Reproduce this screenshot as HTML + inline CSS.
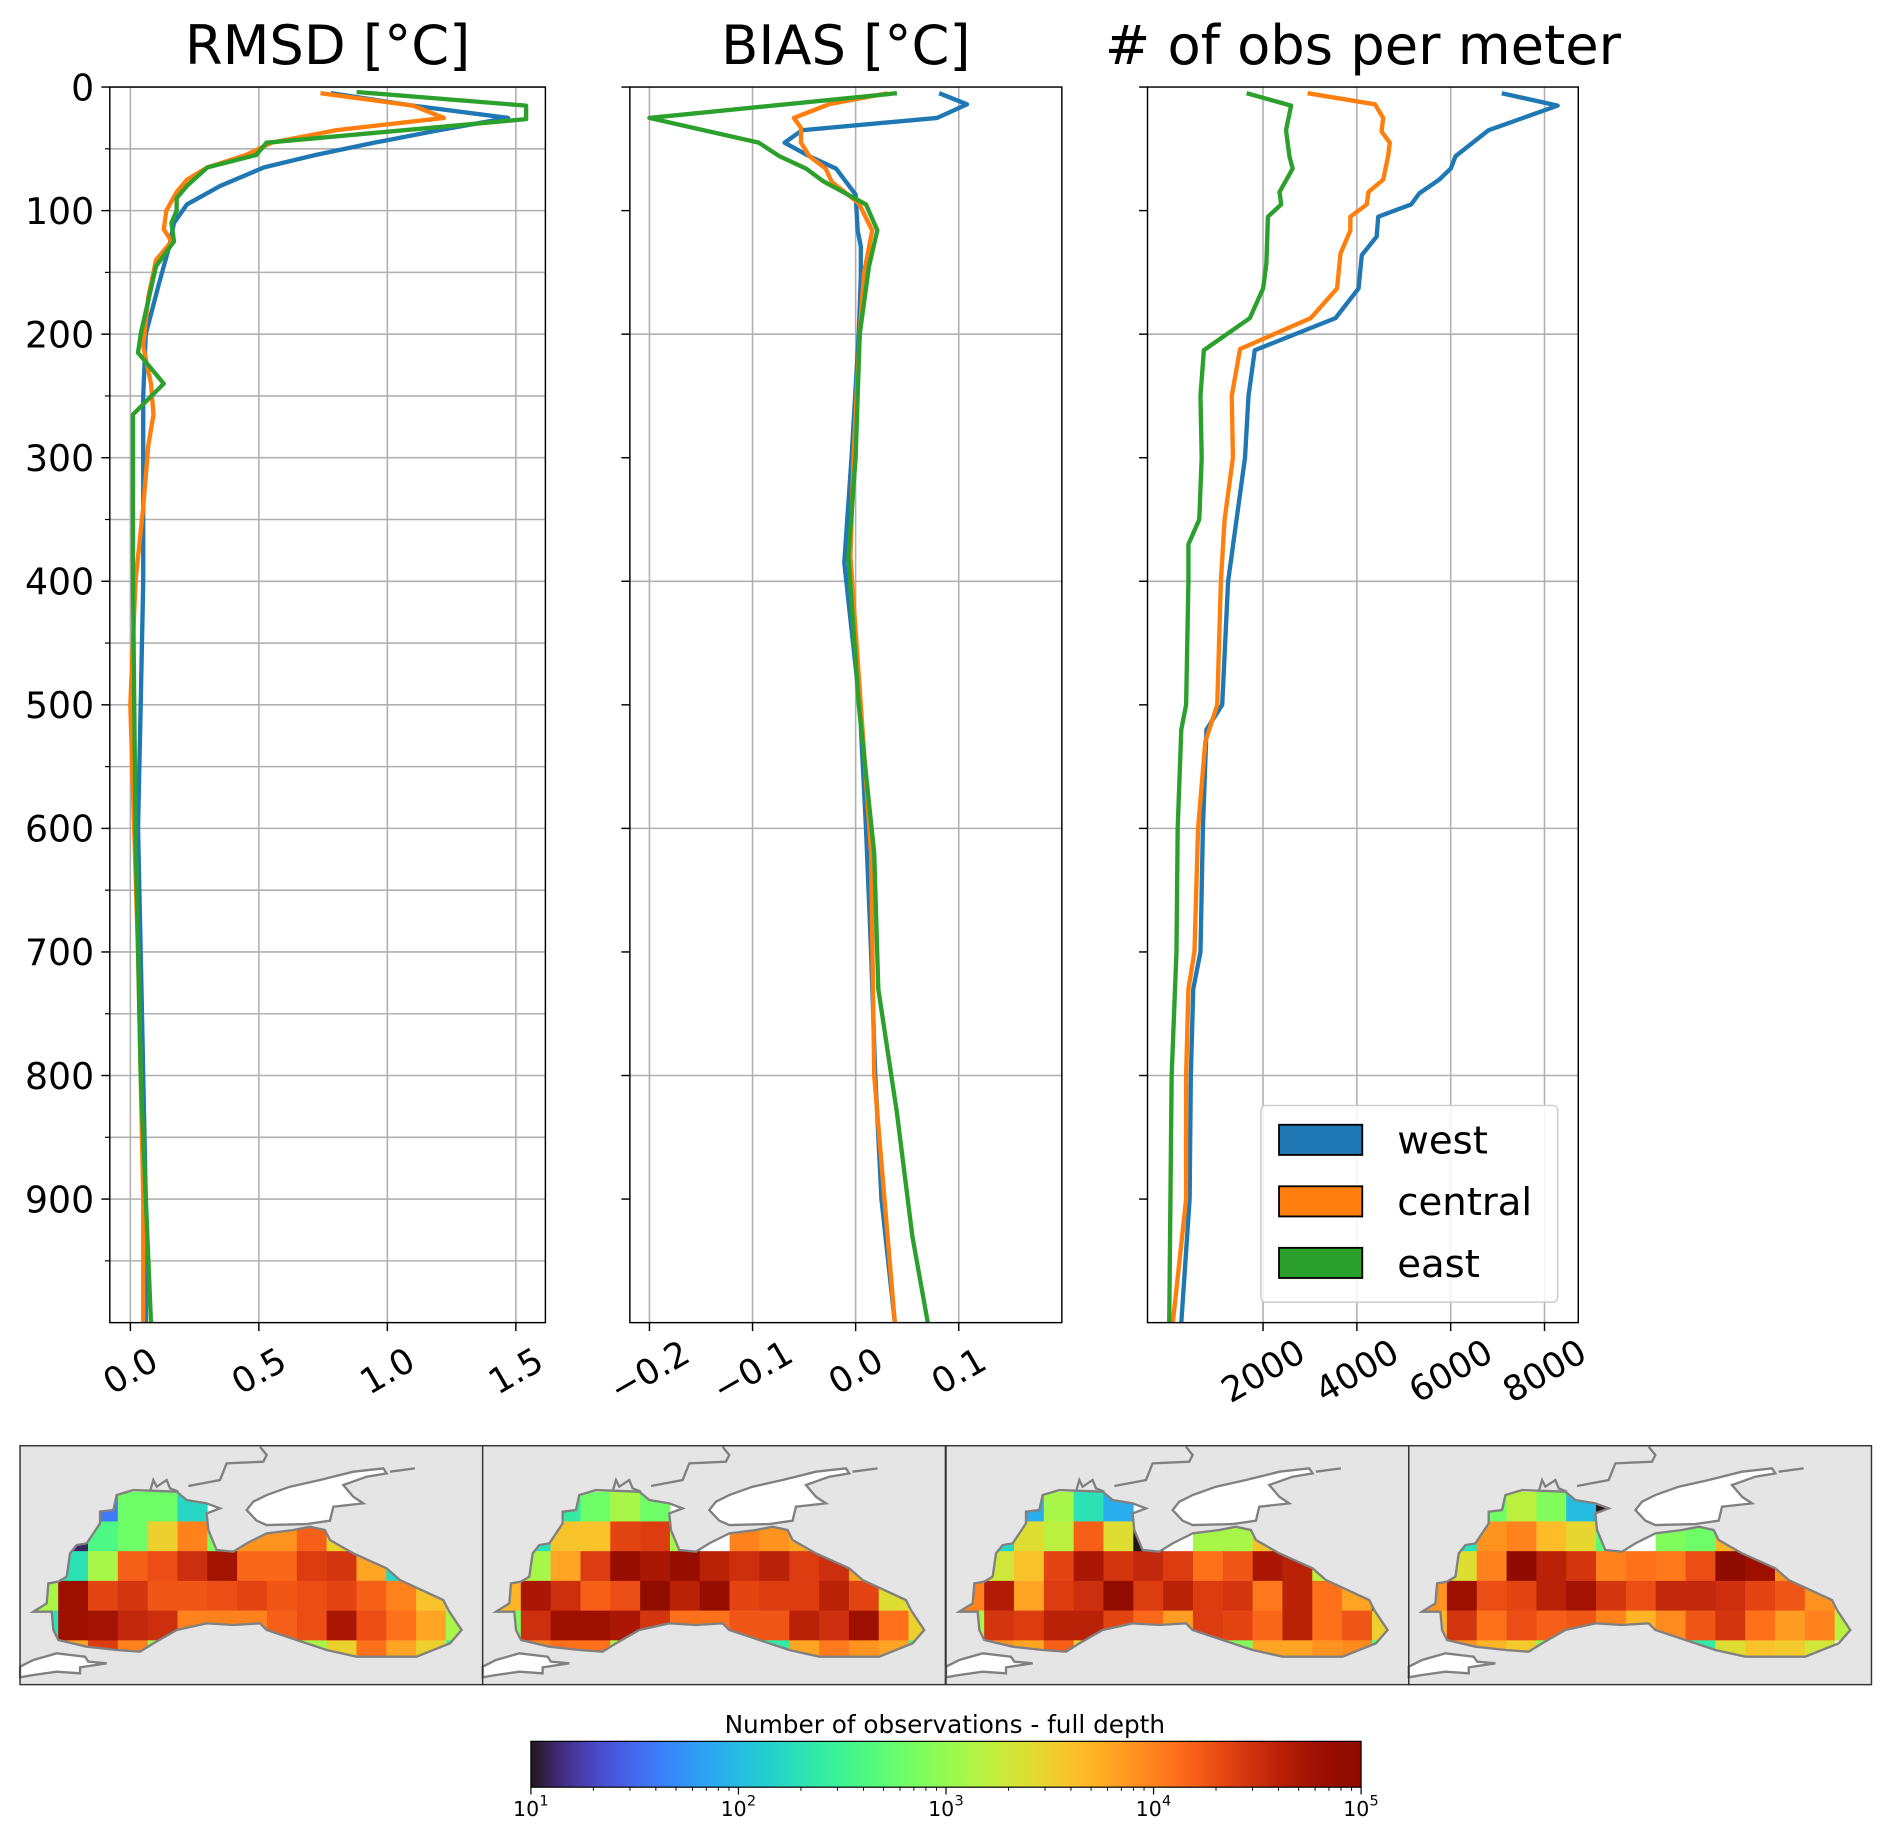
<!DOCTYPE html>
<html><head><meta charset="utf-8"><style>
html,body{margin:0;padding:0;background:#fff;}
svg{display:block;font-family:"DejaVu Sans","Liberation Sans",sans-serif;}
</style></head><body>
<svg id="fig" xmlns="http://www.w3.org/2000/svg" width="1892" height="1832" viewBox="0 0 1568 1518">
<rect width="1568" height="1518" fill="#fff"/>
<g id="plots"></g>
<g id="maps"></g>
<g id="cbar"></g>
</svg>
<script>
// ---------- profile data ----------
const rmsdWestDepth=[5,15,25,35,45,55,65,80,95,110,130,160,200,250,300,400,500,600,700,800,900,1000];
const rmsdWestVal=[0.78,1.1,1.47,1.2,0.95,0.72,0.52,0.35,0.22,0.17,0.15,0.11,0.06,0.05,0.05,0.05,0.04,0.03,0.04,0.05,0.06,0.06];
const rmsdCentralDepth=[5,15,25,35,45,55,65,75,85,100,115,125,140,170,210,240,265,290,340,400,500,570,700,800,900,1000];
const rmsdCentralVal=[0.74,1.1,1.22,0.8,0.55,0.45,0.3,0.22,0.18,0.14,0.13,0.16,0.1,0.07,0.05,0.08,0.09,0.07,0.05,0.02,0.0,0.01,0.03,0.04,0.05,0.05];
const rmsdEastDepth=[4,15,26,45,55,65,80,90,100,110,125,145,200,215,240,265,400,600,800,1000];
const rmsdEastVal=[0.88,1.54,1.54,0.53,0.49,0.3,0.22,0.18,0.18,0.16,0.17,0.1,0.04,0.03,0.13,0.01,0.01,0.02,0.04,0.08];

const biasWestDepth=[5,14,25,35,45,56,66,87,116,129,153,200,300,385,500,600,700,800,900,1000];
const biasWestVal=[0.081,0.108,0.079,-0.052,-0.069,-0.045,-0.019,0.0,0.002,0.005,0.005,0.003,-0.004,-0.011,0.004,0.01,0.015,0.019,0.025,0.038];
const biasCentralDepth=[5,14,25,33,45,56,66,77,94,116,151,200,300,380,500,620,800,900,1000];
const biasCentralVal=[0.031,-0.026,-0.06,-0.053,-0.053,-0.045,-0.029,-0.023,0.003,0.016,0.008,0.004,-0.002,-0.005,0.005,0.015,0.018,0.028,0.038];
const biasEastDepth=[5,25,45,56,66,76,95,116,145,200,300,380,500,620,730,830,930,1000];
const biasEastVal=[0.04,-0.2,-0.094,-0.074,-0.048,-0.032,0.01,0.021,0.013,0.004,0.0,-0.007,0.003,0.018,0.022,0.04,0.055,0.07];

const obsWestDepth=[5,15,35,56,66,75,86,95,105,121,136,163,187,213,250,300,400,500,520,600,700,730,800,900,1000];
const obsWestVal=[7088,8281,6807,6105,6000,5755,5333,5158,4456,4421,4105,4035,3544,1825,1690,1615,1256,1130,795,718,667,513,461,436,256];
const obsCentralDepth=[5,14,25,36,45,56,75,85,95,105,116,135,163,187,212,250,300,350,400,500,530,600,700,730,800,900,1000];
const obsCentralVal=[2947,4386,4561,4526,4702,4667,4561,4246,4211,3860,3860,3649,3579,3017,1509,1333,1359,1180,1100,1025,770,615,538,410,359,359,77];
const obsEastDepth=[5,15,35,56,66,85,95,105,143,163,187,213,250,300,350,370,400,500,520,600,700,800,900,1000];
const obsEastVal=[1649,2597,2491,2561,2632,2351,2386,2105,2070,2000,1719,737,667,692,641,410,410,359,256,180,154,51,26,0];

const yTicks=[0,100,200,300,400,500,600,700,800,900];
const rmsdTicks=[0,0.5,1.0,1.5], rmsdTickLabels=["0.0","0.5","1.0","1.5"];
const biasTicks=[-0.2,-0.1,0,0.1], biasTickLabels=["\u22120.2","\u22120.1","0.0","0.1"];
const obsTicks=[2000,4000,6000,8000], obsTickLabels=["2000","4000","6000","8000"];
const seriesNames=["west","central","east"];
const colors=["#1f77b4","#ff7f0e","#2ca02c"];

const NS="http://www.w3.org/2000/svg";
function mk(tag,attrs,parent){const e=document.createElementNS(NS,tag);for(const k in attrs)e.setAttribute(k,attrs[k]);if(parent)parent.appendChild(e);return e;}
const plots=document.getElementById('plots');
const TOP=72,BOT=1096;
const yS=d=>TOP+(d/1000)*(BOT-TOP);

function panel(name,L,R,xmin,xmax,ticks,tickLabels,title,minorGrid,yLabels,series){
  const g=mk('g',{},plots);
  
  
  const xS=v=>L+(v-xmin)/(xmax-xmin)*(R-L);
  ticks.forEach(t=>{const l=mk('line',{x1:xS(t),x2:xS(t),y1:TOP,y2:BOT,stroke:'#b0b0b0','stroke-width':1.3},g);
    });
  for(let d=0;d<1000;d+=50){
    const major=d%100===0;
    if(minorGrid || (d%200===0 && d>0)){
      const l=mk('line',{x1:L,x2:R,y1:yS(d),y2:yS(d),stroke:'#b0b0b0','stroke-width':1.3},g);
      
    }
    if(major) mk('line',{x1:L-7,x2:L,y1:yS(d),y2:yS(d),stroke:'#000','stroke-width':1.2},g);
    else if(minorGrid) mk('line',{x1:L-4,x2:L,y1:yS(d),y2:yS(d),stroke:'#000','stroke-width':1},g);
  }
  series.forEach((s,i)=>{
    const pts=s[0].map((d,j)=>xS(s[1][j]).toFixed(1)+','+yS(d).toFixed(1)).join(' ');
    const p=mk('polyline',{points:pts,fill:'none',stroke:colors[i],'stroke-width':3.6,'stroke-linejoin':'round'},g);
    
    
  });
  const f=mk('rect',{x:L,y:TOP,width:R-L,height:BOT-TOP,fill:'none',stroke:'#000','stroke-width':1.2},g);
  
  ticks.forEach((t,i)=>{
    mk('line',{x1:xS(t),x2:xS(t),y1:BOT,y2:BOT+7,stroke:'#000','stroke-width':1.2},g);
    const tx=mk('text',{x:xS(t),y:BOT+50,'font-size':29,'text-anchor':'middle',transform:`rotate(-30 ${xS(t)} ${BOT+40})`},g);
    tx.textContent=tickLabels[i];
    
  });
  if(yLabels){
    yTicks.forEach(t=>{const tx=mk('text',{x:L-13,y:yS(t)+11,'font-size':30,'text-anchor':'end'},g);
      tx.textContent=String(t);
      });
  }
  const tt=mk('text',{x:(L+R)/2,y:53,'font-size':45,'text-anchor':'middle'},g);
  tt.textContent=title;
  
  return g;
}
panel('rmsd',91,452,-0.08,1.615,rmsdTicks,rmsdTickLabels,'RMSD [°C]',true,true,
  [[rmsdWestDepth,rmsdWestVal],[rmsdCentralDepth,rmsdCentralVal],[rmsdEastDepth,rmsdEastVal]]);
panel('bias',522,880,-0.219,0.2,biasTicks,biasTickLabels,'BIAS [°C]',false,false,
  [[biasWestDepth,biasWestVal],[biasCentralDepth,biasCentralVal],[biasEastDepth,biasEastVal]]);
panel('obs',951,1308,-463,8720,obsTicks,obsTickLabels,'# of obs per meter',false,false,
  [[obsWestDepth,obsWestVal],[obsCentralDepth,obsCentralVal],[obsEastDepth,obsEastVal]]);
const lg=mk('g',{},plots);

mk('rect',{x:1045,y:916,width:246,height:163,rx:4,fill:'#fff','fill-opacity':0.85,stroke:'#ccc','stroke-width':1.2},lg);
seriesNames.forEach((n,i)=>{
  const y=932+i*51;
  const r=mk('rect',{x:1060,y:y,width:69,height:25,fill:colors[i],stroke:'#000','stroke-width':1.5},lg);
  
  const t=mk('text',{x:1158,y:y+24,'font-size':32},lg);t.textContent=n;
  
});

// ---------- maps: log10 counts per grid cell ----------
const N=null;
const mapWest=[
 [N,N,1.6,2.8,2.8,2.2,N,N,N,N,N,N,N,N,N],
 [N,1.1,2.6,2.8,3.5,4.0,2.9,3.9,3.9,4.2,3.5,N,N,N,N],
 [N,2.3,3.1,4.2,4.3,4.5,4.75,4.15,4.15,4.4,4.45,3.8,2.2,N,N],
 [3.1,4.8,4.35,4.45,4.25,4.25,4.3,4.35,4.25,4.3,4.35,4.2,4.0,3.6,N],
 [2.3,4.8,4.75,4.55,4.5,4.0,4.0,4.0,4.2,4.3,4.7,4.3,4.1,3.8,3.1],
 [N,3.8,4.4,4.0,3.1,N,N,N,N,3.1,3.5,4.1,3.8,3.5,2.5]];
const mapCentral=[
 [N,N,2.4,2.8,3.1,2.8,N,N,N,N,N,N,N,N,N],
 [N,2.3,3.6,3.6,4.35,4.4,3.1,N,4.0,3.9,3.8,N,N,N,N],
 [N,3.1,3.8,4.4,4.85,4.7,4.85,4.6,4.5,4.6,4.4,4.5,3.8,N,N],
 [3.7,4.7,4.5,4.2,4.3,4.9,4.6,4.85,4.35,4.4,4.4,4.6,4.35,3.4,N],
 [2.9,4.5,4.8,4.8,4.7,4.45,4.1,4.1,4.25,4.25,4.6,4.5,4.8,4.1,3.5],
 [N,4.0,4.1,4.1,3.1,N,N,N,N,2.4,3.8,4.05,3.9,3.8,2.5]];
const mapEast=[
 [N,N,1.9,3.1,2.3,1.9,N,N,N,N,N,N,N,N,N],
 [N,2.2,3.4,3.2,4.2,3.4,1.0,N,3.1,3.1,3.6,N,N,N,N],
 [N,3.3,3.6,4.35,4.7,4.45,4.55,4.4,4.1,4.25,4.7,4.6,3.2,N,N],
 [4.0,4.65,3.8,4.4,4.5,4.9,4.4,4.6,4.4,4.45,4.05,4.6,4.1,3.8,1.0],
 [3.1,4.45,4.4,4.6,4.6,4.35,4.15,3.85,4.4,4.35,4.15,4.6,4.1,4.25,3.5],
 [N,3.9,3.8,4.2,3.5,N,N,N,N,2.9,3.8,3.8,3.9,3.95,2.6]];
const mapAll=[
 [N,N,2.8,3.2,2.9,2.0,1.0,N,N,N,N,N,N,N,N],
 [N,2.3,3.9,4.0,3.65,3.45,2.7,N,2.9,2.8,3.7,N,N,N,N],
 [N,3.4,4.0,4.95,4.6,4.45,4.0,4.1,4.05,4.3,4.95,4.8,3.9,N,N],
 [3.9,4.8,4.3,4.35,4.6,4.75,4.45,4.3,4.55,4.55,4.5,4.35,4.25,3.9,N],
 [3.7,4.45,4.1,4.3,4.2,4.25,4.0,3.7,3.95,4.25,4.45,4.1,3.85,4.0,3.2],
 [N,3.9,3.7,3.55,2.9,N,N,N,N,2.4,3.4,3.6,3.55,3.3,N]];
const mapsData=[mapWest,mapCentral,mapEast,mapAll];
const mapNames=['map-west','map-central','map-east','map-all'];

function turbo(t){t=Math.max(0,Math.min(1,t));
  const r=34.61+t*(1172.33-t*(10793.56-t*(33300.12-t*(38394.49-t*14825.05))));
  const g=23.31+t*(557.33+t*(1225.33-t*(3574.96-t*(1073.77+t*707.56))));
  const b=27.2+t*(3211.1-t*(15327.97-t*(27814-t*(22569.18-t*6838.66))));
  const c=v=>Math.round(Math.max(0,Math.min(255,v)));
  return `rgb(${c(r)},${c(g)},${c(b)})`;}

const seaPts="400,180 530,185 560,210 620,220 660,235 620,250 625,300 650,360 700,365 740,340 800,310 880,300 930,290 975,300 990,330 1060,370 1160,415 1200,450 1330,510 1345,540 1385,600 1350,640 1250,680 1070,680 980,660 890,630 800,600 780,580 700,585 620,580 530,600 460,640 420,665 350,660 260,650 175,630 160,600 155,545 100,545 140,520 145,460 175,455 200,440 210,370 230,345 260,340 300,280 300,245 340,240 350,195";
const azovPts="760,215 800,195 870,170 960,150 1060,125 1150,115 1160,130 1100,140 1030,165 1060,200 1090,220 1000,230 990,272 920,282 800,285 770,272 740,240";
const marmaraPts="60,710 100,690 170,670 255,680 265,695 320,700 240,712 240,730 170,725 100,735 60,742";
const coastLines=["565,168 660,150 680,100 790,95 800,75 780,50","1170,125 1245,115","450,185 460,150 470,170 500,150 510,175 535,185"];
const maps=document.getElementById('maps');
const mapL=[16.6,400,784,1167.5];
mapsData.forEach((grid,m)=>{
  const L=mapL[m];
  const g=mk('g',{},maps);
  
  mk('rect',{x:L,y:1198,width:383.5,height:198,fill:'#e5e5e5'},g);
  const cp=mk('clipPath',{id:'clip'+m},g);
  mk('polygon',{points:seaPts},cp);
  const gi=mk('g',{transform:`translate(${L},1198) scale(0.2762) translate(-60,-47)`},g);
  mk('polygon',{points:seaPts,fill:'#fff'},gi);
  const cg=mk('g',{'clip-path':`url(#clip${m})`},gi);
  grid.forEach((row,r)=>row.forEach((v,c)=>{
    if(v===null)return;
    const cell=mk('rect',{x:85+c*89.5,y:185+r*89.2,width:90.5,height:90.2,fill:turbo((v-1)/4)},cg);
    
    
  }));
  mk('polygon',{points:seaPts,fill:'none',stroke:'#808080','stroke-width':7},gi);
  mk('polygon',{points:azovPts,fill:'#fff',stroke:'#808080','stroke-width':7},gi);
  mk('polygon',{points:marmaraPts,fill:'#fff',stroke:'#808080','stroke-width':7},gi);
  coastLines.forEach(p=>mk('polyline',{points:p,fill:'none',stroke:'#808080','stroke-width':7},gi));
  mk('rect',{x:L,y:1198,width:383.5,height:198,fill:'none',stroke:'#333','stroke-width':1.2},g);
});

// ---------- colorbar ----------
const cbTickVals=[1,2,3,4,5];
const cb=document.getElementById('cbar');

const defs=mk('defs',{},cb);
const grad=mk('linearGradient',{id:'tg',x1:0,x2:1,y1:0,y2:0},defs);
for(let i=0;i<=32;i++){mk('stop',{offset:(i/32),'stop-color':turbo(i/32)},grad);}
const cbx=v=>440+(v-1)/4*688;
mk('rect',{x:440,y:1443,width:688,height:38,fill:'url(#tg)',stroke:'#000','stroke-width':1},cb);
const ct=mk('text',{x:783,y:1436,'font-size':20.5,'text-anchor':'middle'},cb);
ct.textContent='Number of observations - full depth';

cbTickVals.forEach(v=>{
  mk('line',{x1:cbx(v),x2:cbx(v),y1:1481,y2:1487,stroke:'#000','stroke-width':1},cb);
  for(let k=2;k<10&&v<5;k++){const xx=cbx(v+Math.log10(k));mk('line',{x1:xx,x2:xx,y1:1481,y2:1484,stroke:'#000','stroke-width':0.8},cb);}
  const t=mk('text',{x:cbx(v)-4,y:1505,'font-size':17,'text-anchor':'middle'},cb);
  t.textContent='10';
  
  const s=mk('text',{x:cbx(v)+7,y:1496,'font-size':12},cb);s.textContent=String(v);
});
</script>
</body></html>
